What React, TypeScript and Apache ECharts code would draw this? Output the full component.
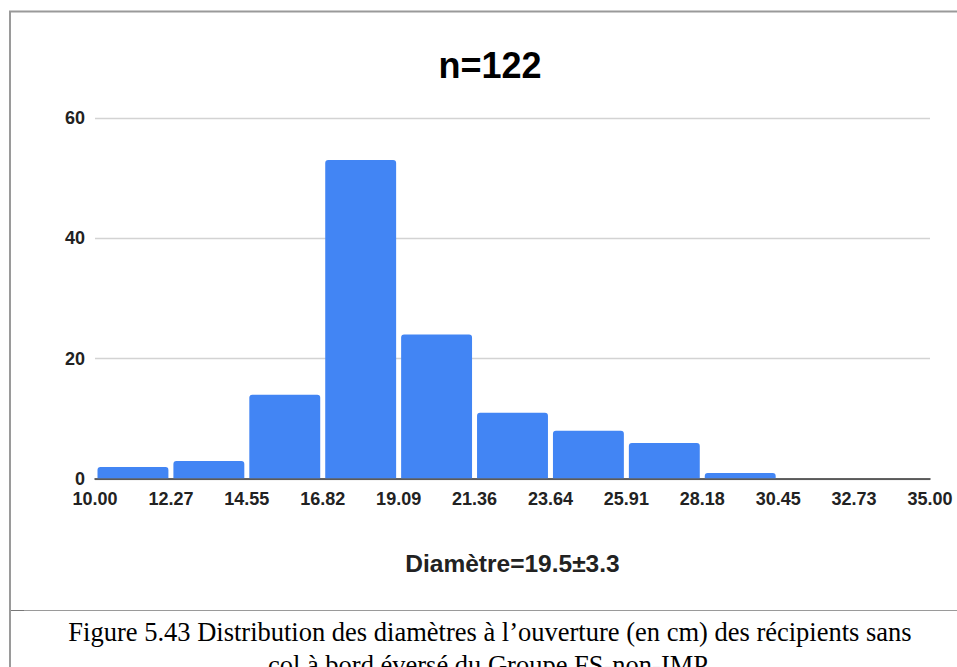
import React, { useEffect, useRef } from "react";
import * as echarts from "echarts";

const edgeLabels = ["10.00", "12.27", "14.55", "16.82", "19.09", "21.36", "23.64", "25.91", "28.18", "30.45", "32.73", "35.00"];
const binCounts = [2, 3, 14, 53, 24, 11, 8, 6, 1, 0, 0];
const yTicks = [0, 20, 40, 60];
const titleText = "n=122";
const axisNameText = "Diamètre=19.5±3.3";
const captionLines = [
  "Figure 5.43 Distribution des diamètres à l\u2019ouverture (en cm) des récipients sans",
  "col à bord éversé du Groupe FS-non-IMP",
];

const SANS = "'Liberation Sans', Arial, sans-serif";
const SERIF = "'Liberation Serif', 'Times New Roman', serif";

export default function App() {
  const ref = useRef<HTMLDivElement>(null);
  useEffect(() => {
    if (!ref.current) return;
    const chart = echarts.init(ref.current, undefined, { renderer: "svg" });
    const option: any = {
      animation: false,
      backgroundColor: "#ffffff",
      grid: { left: 95, right: 27, top: 118, bottom: 188, containLabel: false },
      xAxis: {
        type: "value",
        min: 0,
        max: edgeLabels.length - 1,
        interval: 1,
        name: axisNameText,
        nameLocation: "middle",
        nameGap: 72,
        nameTextStyle: { fontFamily: SANS, fontWeight: "bold", fontSize: 24.5, color: "#222" },
        axisLine: { show: true, lineStyle: { color: "#333", width: 1.5 } },
        axisTick: { show: false },
        splitLine: { show: false },
        axisLabel: {
          formatter: (v: number) => edgeLabels[Math.round(v)] ?? "",
          fontFamily: SANS,
          fontWeight: "bold",
          fontSize: 18,
          color: "#222",
          margin: 11,
          showMinLabel: true,
          showMaxLabel: true,
        },
      },
      yAxis: {
        type: "value",
        min: yTicks[0],
        max: yTicks[yTicks.length - 1],
        interval: yTicks[1] - yTicks[0],
        axisLine: { show: false },
        axisTick: { show: false },
        splitLine: { show: true, lineStyle: { color: "#d3d3d3", width: 1.3 } },
        axisLabel: { fontFamily: SANS, fontWeight: "bold", fontSize: 18, color: "#222", margin: 10 },
      },
      series: [
        {
          type: "custom",
          data: binCounts.map((c, i) => [i, c]),
          encode: { x: 0, y: 1 },
          renderItem: (params: any, api: any) => {
            const i = api.value(0);
            const v = api.value(1);
            if (!v) return null;
            const p0 = api.coord([i, v]);
            const p1 = api.coord([i + 1, 0]);
            return {
              type: "rect",
              shape: { x: p0[0] + 2.5, y: p0[1], width: p1[0] - p0[0] - 5, height: p1[1] - p0[1] - 0.8, r: [3, 3, 0, 0] },
              style: { fill: "#4285f4" },
            };
          },
          z: 1,
        },
      ],
      graphic: [
        { type: "line", shape: { x1: 9, y1: 11.5, x2: 957, y2: 11.5 }, style: { stroke: "#9a9a9a", lineWidth: 2 }, silent: true },
        { type: "line", shape: { x1: 10, y1: 11, x2: 10, y2: 667 }, style: { stroke: "#9a9a9a", lineWidth: 2 }, silent: true },
        { type: "line", shape: { x1: 10, y1: 610.5, x2: 957, y2: 610.5 }, style: { stroke: "#9a9a9a", lineWidth: 1 }, silent: true },
        { type: "line", shape: { x1: 11, y1: 610.5, x2: 24, y2: 610.5 }, style: { stroke: "#777", lineWidth: 1 }, silent: true },
        {
          type: "text",
          x: 490,
          y: 65,
          style: { text: titleText, fontFamily: SANS, fontWeight: "bold", fontSize: 36, fill: "#000", textAlign: "center", textVerticalAlign: "middle", align: "center", verticalAlign: "middle" },
          silent: true,
        },
        {
          type: "text",
          x: 490,
          y: 632,
          style: { text: captionLines[0], fontFamily: SERIF, fontSize: 26.5, fill: "#000", textAlign: "center", textVerticalAlign: "middle", align: "center", verticalAlign: "middle" },
          silent: true,
        },
        {
          type: "text",
          x: 488,
          y: 665,
          style: { text: captionLines[1], fontFamily: SERIF, fontSize: 26.5, fill: "#000", textAlign: "center", textVerticalAlign: "middle", align: "center", verticalAlign: "middle" },
          silent: true,
        },
      ],
    };
    chart.setOption(option);
    return () => chart.dispose();
  }, []);
  return (
    <div
      ref={ref}
      style={{ position: "absolute", left: 0, top: 0, width: 957, height: 667, background: "#fff" }}
    />
  );
}
